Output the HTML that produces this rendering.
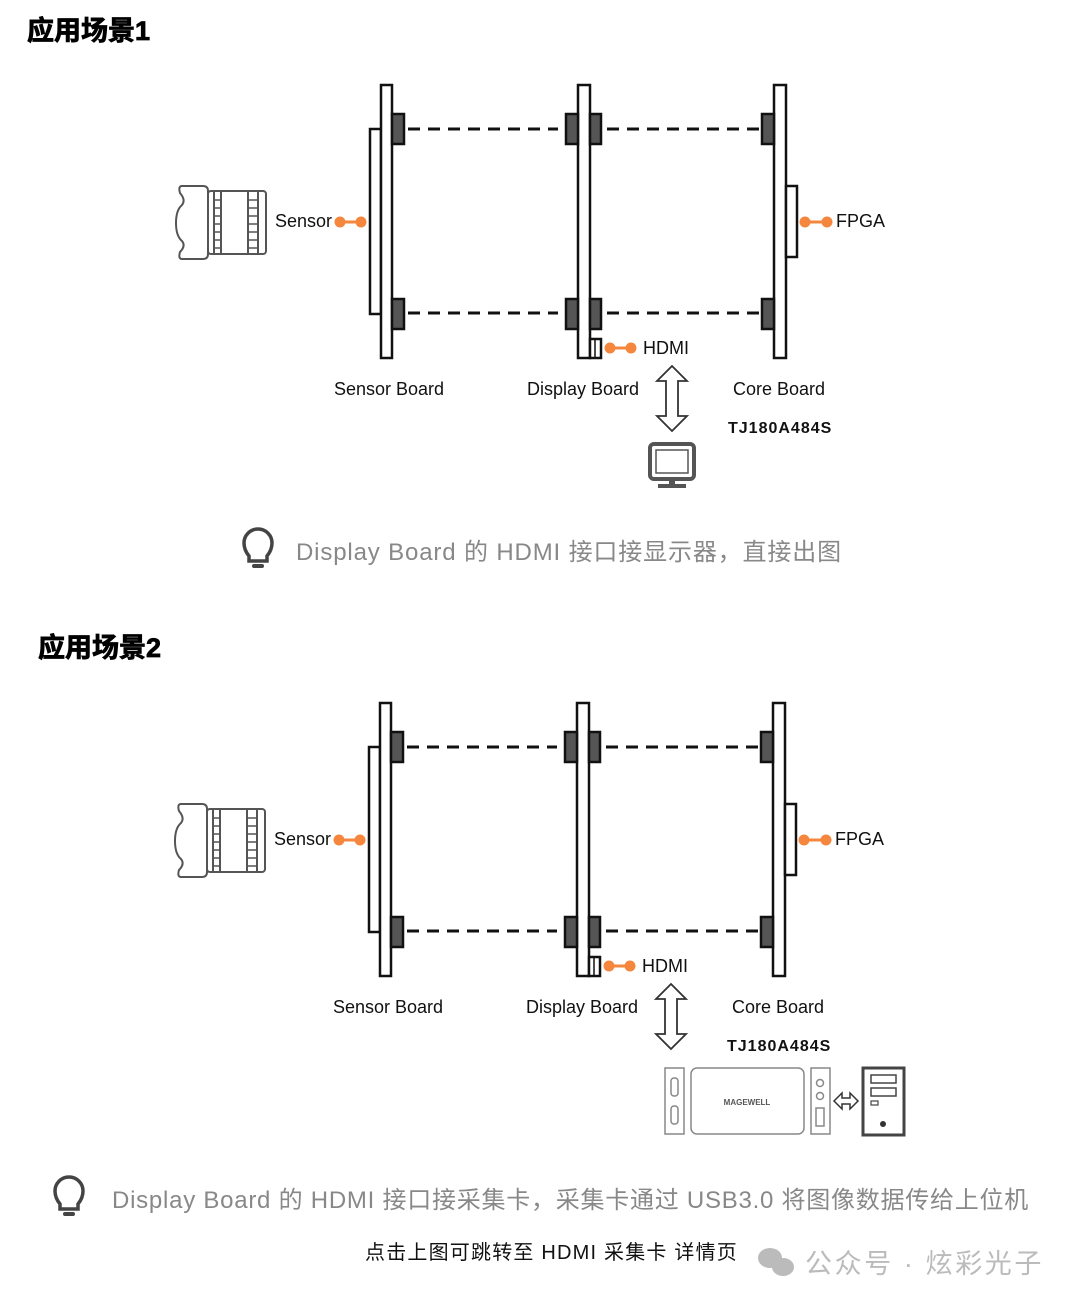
<!DOCTYPE html>
<html><head><meta charset="utf-8"><style>
html,body{margin:0;padding:0;background:#fff;}
body{width:1080px;height:1307px;overflow:hidden;position:relative;font-family:"Liberation Sans","Noto Sans CJK SC",sans-serif;}
svg{position:absolute;left:0;top:0;}
</style></head><body>
<svg width="1080" height="1307" viewBox="0 0 1080 1307" xmlns="http://www.w3.org/2000/svg">
<defs>
<g id="diag">
  <g stroke="#111" stroke-width="3" stroke-dasharray="12,8">
    <line x1="408" y1="129" x2="558" y2="129"/>
    <line x1="408" y1="313" x2="558" y2="313"/>
    <line x1="607" y1="129" x2="760" y2="129"/>
    <line x1="607" y1="313" x2="760" y2="313"/>
  </g>
  <g stroke="#111" stroke-width="2.5">
    <rect x="370" y="129" width="11" height="185" fill="#fff"/>
    <rect x="381" y="85" width="11" height="273" fill="#fff"/>
    <rect x="392" y="114" width="12" height="30" fill="#555"/>
    <rect x="392" y="299" width="12" height="30" fill="#555"/>
    <rect x="578" y="85" width="12" height="273" fill="#fff"/>
    <rect x="566" y="114" width="12" height="30" fill="#555"/>
    <rect x="590" y="114" width="11" height="30" fill="#555"/>
    <rect x="566" y="299" width="12" height="30" fill="#555"/>
    <rect x="590" y="299" width="11" height="30" fill="#555"/>
    <rect x="590" y="339" width="11" height="19" fill="#fff"/>
    <line x1="595" y1="340" x2="595" y2="357" stroke-width="1.5"/>
    <rect x="774" y="85" width="12" height="273" fill="#fff"/>
    <rect x="762" y="114" width="12" height="30" fill="#555"/>
    <rect x="762" y="299" width="12" height="30" fill="#555"/>
    <rect x="786" y="186" width="11" height="71" fill="#fff"/>
  </g>
  <g stroke="#f4873d" stroke-width="3" fill="#f4873d">
    <line x1="340" y1="222" x2="361" y2="222"/><circle cx="340" cy="222" r="4"/><circle cx="361" cy="222" r="4"/>
    <line x1="805" y1="222" x2="827" y2="222"/><circle cx="805" cy="222" r="4"/><circle cx="827" cy="222" r="4"/>
    <line x1="610" y1="348" x2="631" y2="348"/><circle cx="610" cy="348" r="4"/><circle cx="631" cy="348" r="4"/>
  </g>
  <g fill="#fff" stroke="#555" stroke-width="2">
    <path d="M182,186 L203,186 Q208,186 208,191 L208,254 Q208,259 203,259 L182,259 Q178,259 180,252 Q186,246 182,241 Q176,236 176,223 Q176,210 182,205 Q186,200 180,193 Q178,186 182,186Z"/>
    <rect x="208" y="191" width="58" height="63" rx="3"/>
    <line x1="214" y1="191" x2="214" y2="254"/><line x1="221" y1="191" x2="221" y2="254"/>
    <line x1="248" y1="191" x2="248" y2="254"/><line x1="258" y1="191" x2="258" y2="254"/>
    <path d="M214,200h7M214,208h7M214,216h7M214,224h7M214,232h7M214,240h7M214,248h7M248,200h10M248,208h10M248,216h10M248,224h10M248,232h10M248,240h10M248,248h10" stroke-width="1.5"/>
  </g>
  <g font-family="Liberation Sans, sans-serif" font-size="18" fill="#111">
    <text x="275" y="227">Sensor</text>
    <text x="836" y="227">FPGA</text>
    <text x="643" y="354">HDMI</text>
    <text x="389" y="395" text-anchor="middle">Sensor Board</text>
    <text x="583" y="395" text-anchor="middle">Display Board</text>
    <text x="779" y="395" text-anchor="middle">Core Board</text>
    <text x="728" y="433" font-weight="bold" font-size="16" letter-spacing="1">TJ180A484S</text>
  </g>
  <path d="M672,366 L687,381 L678,381 L678,416 L687,416 L672,431 L657,416 L666,416 L666,381 L657,381Z" fill="#fff" stroke="#333" stroke-width="1.8"/>
</g>
<g id="bulb">
  <path d="M-9,6 Q-14,0 -14,-7 A14,14 0 1 1 14,-7 Q14,0 9,6 L9,11 L-9,11Z" fill="none" stroke="#444" stroke-width="3.5"/>
  <rect x="-6" y="14" width="12" height="4" rx="2" fill="#444"/>
</g>
</defs>

<text x="27" y="40" font-size="27" font-weight="bold" fill="#000" stroke="#000" stroke-width="0.8" font-family="Liberation Sans, Noto Sans CJK SC, sans-serif">应用场景1</text>
<use href="#diag"/>
<g fill="none" stroke="#555" stroke-width="4">
  <rect x="650" y="444" width="44" height="35" rx="4"/>
  <rect x="656" y="450" width="32" height="23" stroke-width="1.5"/>
</g>
<rect x="669" y="479" width="6" height="5" fill="#555"/>
<rect x="658" y="484" width="28" height="4" fill="#555"/>
<use href="#bulb" x="258" y="550"/>
<text x="296" y="560" font-size="24" fill="#888" letter-spacing="0.85" font-family="Liberation Sans, Noto Sans CJK SC, sans-serif">Display Board 的 HDMI 接口接显示器，直接出图</text>

<text x="38" y="657" font-size="27" font-weight="bold" fill="#000" stroke="#000" stroke-width="0.8" font-family="Liberation Sans, Noto Sans CJK SC, sans-serif">应用场景2</text>
<use href="#diag" transform="translate(-1,618)"/>
<g fill="#fff" stroke="#888" stroke-width="1.5">
  <rect x="665" y="1068" width="19" height="66"/>
  <rect x="691" y="1068" width="113" height="66" rx="6"/>
  <rect x="811" y="1068" width="19" height="66"/>
  <rect x="671" y="1078" width="7" height="18" rx="3"/>
  <rect x="671" y="1106" width="7" height="18" rx="3"/>
  <circle cx="820" cy="1083" r="3.5"/><circle cx="820" cy="1096" r="3.5"/>
  <rect x="816" y="1108" width="8" height="18"/>
  <path d="M834,1101 L842,1093 L842,1098 L850,1098 L850,1093 L858,1101 L850,1109 L850,1104 L842,1104 L842,1109Z" stroke="#333"/>
</g>
<text x="747" y="1105" font-size="8" font-weight="bold" fill="#555" text-anchor="middle" font-family="Liberation Sans, sans-serif">MAGEWELL</text>
<g fill="#fff" stroke="#444">
  <rect x="863" y="1068" width="41" height="67" stroke-width="3"/>
  <rect x="871" y="1075" width="25" height="8" stroke-width="1.5"/>
  <rect x="871" y="1088" width="25" height="8" stroke-width="1.5"/>
  <rect x="871" y="1101" width="7" height="4" stroke-width="1.2"/>
</g>
<circle cx="883" cy="1124" r="3" fill="#333"/>
<use href="#bulb" x="69" y="1198"/>
<text x="112" y="1208" font-size="24" fill="#888" letter-spacing="0.75" font-family="Liberation Sans, Noto Sans CJK SC, sans-serif">Display Board 的 HDMI 接口接采集卡，采集卡通过 USB3.0 将图像数据传给上位机</text>
<text x="365" y="1259" font-size="20" fill="#111" letter-spacing="1.2" font-family="Liberation Sans, Noto Sans CJK SC, sans-serif">点击上图可跳转至 HDMI 采集卡 详情页</text>
<g fill="#bbb">
  <ellipse cx="770" cy="1258" rx="12" ry="10"/>
  <ellipse cx="783" cy="1267" rx="11" ry="9"/>
</g>
<text x="805" y="1273" font-size="27" fill="#bbb" letter-spacing="2.6" font-family="Liberation Sans, Noto Sans CJK SC, sans-serif">公众号 · 炫彩光子</text>
</svg>
</body></html>
